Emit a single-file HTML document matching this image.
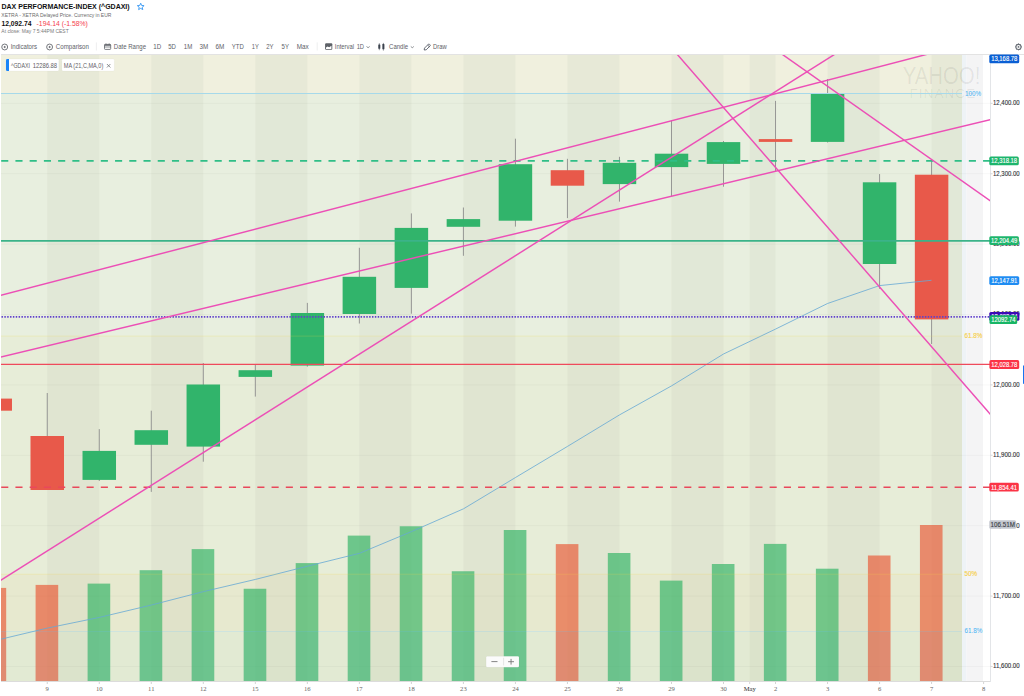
<!DOCTYPE html>
<html><head><meta charset="utf-8"><title>DAX Chart</title>
<style>
html,body{margin:0;padding:0;background:#fff;width:1024px;height:696px;overflow:hidden;}
svg{position:absolute;left:0;top:0;display:block;font-family:"Liberation Sans",sans-serif;}
</style></head><body>
<svg width="1024" height="696" viewBox="0 0 1024 696">
<defs><clipPath id="pc"><rect x="1" y="55" width="989" height="626"/></clipPath></defs>
<rect x="1" y="55" width="962" height="38.5" fill="#f0f0de"/>
<rect x="47.25" y="55" width="52.02" height="38.5" fill="#e7e9d7"/>
<rect x="151.29" y="55" width="52.02" height="38.5" fill="#e7e9d7"/>
<rect x="255.33" y="55" width="52.02" height="38.5" fill="#e7e9d7"/>
<rect x="359.37" y="55" width="52.02" height="38.5" fill="#e7e9d7"/>
<rect x="463.41" y="55" width="52.02" height="38.5" fill="#e7e9d7"/>
<rect x="567.45" y="55" width="52.02" height="38.5" fill="#e7e9d7"/>
<rect x="671.49" y="55" width="52.02" height="38.5" fill="#e7e9d7"/>
<rect x="749.70" y="55" width="25.83" height="38.5" fill="#e7e9d7"/>
<rect x="827.55" y="55" width="52.02" height="38.5" fill="#e7e9d7"/>
<rect x="931.59" y="55" width="30.41" height="38.5" fill="#e7e9d7"/>
<rect x="1" y="93.5" width="962" height="242.5" fill="#e8efdf"/>
<rect x="47.25" y="93.5" width="52.02" height="242.5" fill="#e1e8d7"/>
<rect x="151.29" y="93.5" width="52.02" height="242.5" fill="#e1e8d7"/>
<rect x="255.33" y="93.5" width="52.02" height="242.5" fill="#e1e8d7"/>
<rect x="359.37" y="93.5" width="52.02" height="242.5" fill="#e1e8d7"/>
<rect x="463.41" y="93.5" width="52.02" height="242.5" fill="#e1e8d7"/>
<rect x="567.45" y="93.5" width="52.02" height="242.5" fill="#e1e8d7"/>
<rect x="671.49" y="93.5" width="52.02" height="242.5" fill="#e1e8d7"/>
<rect x="749.70" y="93.5" width="25.83" height="242.5" fill="#e1e8d7"/>
<rect x="827.55" y="93.5" width="52.02" height="242.5" fill="#e1e8d7"/>
<rect x="931.59" y="93.5" width="30.41" height="242.5" fill="#e1e8d7"/>
<rect x="1" y="336" width="962" height="238" fill="#e7edd8"/>
<rect x="47.25" y="336" width="52.02" height="238" fill="#e0e5d1"/>
<rect x="151.29" y="336" width="52.02" height="238" fill="#e0e5d1"/>
<rect x="255.33" y="336" width="52.02" height="238" fill="#e0e5d1"/>
<rect x="359.37" y="336" width="52.02" height="238" fill="#e0e5d1"/>
<rect x="463.41" y="336" width="52.02" height="238" fill="#e0e5d1"/>
<rect x="567.45" y="336" width="52.02" height="238" fill="#e0e5d1"/>
<rect x="671.49" y="336" width="52.02" height="238" fill="#e0e5d1"/>
<rect x="749.70" y="336" width="25.83" height="238" fill="#e0e5d1"/>
<rect x="827.55" y="336" width="52.02" height="238" fill="#e0e5d1"/>
<rect x="931.59" y="336" width="30.41" height="238" fill="#e0e5d1"/>
<rect x="1" y="574" width="962" height="57.5" fill="#e7e9cf"/>
<rect x="47.25" y="574" width="52.02" height="57.5" fill="#e0e2c9"/>
<rect x="151.29" y="574" width="52.02" height="57.5" fill="#e0e2c9"/>
<rect x="255.33" y="574" width="52.02" height="57.5" fill="#e0e2c9"/>
<rect x="359.37" y="574" width="52.02" height="57.5" fill="#e0e2c9"/>
<rect x="463.41" y="574" width="52.02" height="57.5" fill="#e0e2c9"/>
<rect x="567.45" y="574" width="52.02" height="57.5" fill="#e0e2c9"/>
<rect x="671.49" y="574" width="52.02" height="57.5" fill="#e0e2c9"/>
<rect x="749.70" y="574" width="25.83" height="57.5" fill="#e0e2c9"/>
<rect x="827.55" y="574" width="52.02" height="57.5" fill="#e0e2c9"/>
<rect x="931.59" y="574" width="30.41" height="57.5" fill="#e0e2c9"/>
<rect x="1" y="631.5" width="962" height="49.5" fill="#e2ead3"/>
<rect x="47.25" y="631.5" width="52.02" height="49.5" fill="#dbe3cb"/>
<rect x="151.29" y="631.5" width="52.02" height="49.5" fill="#dbe3cb"/>
<rect x="255.33" y="631.5" width="52.02" height="49.5" fill="#dbe3cb"/>
<rect x="359.37" y="631.5" width="52.02" height="49.5" fill="#dbe3cb"/>
<rect x="463.41" y="631.5" width="52.02" height="49.5" fill="#dbe3cb"/>
<rect x="567.45" y="631.5" width="52.02" height="49.5" fill="#dbe3cb"/>
<rect x="671.49" y="631.5" width="52.02" height="49.5" fill="#dbe3cb"/>
<rect x="749.70" y="631.5" width="25.83" height="49.5" fill="#dbe3cb"/>
<rect x="827.55" y="631.5" width="52.02" height="49.5" fill="#dbe3cb"/>
<rect x="931.59" y="631.5" width="30.41" height="49.5" fill="#dbe3cb"/>
<rect x="962" y="55" width="4.5" height="626" fill="#eef3f6"/>
<rect x="966.5" y="55" width="16.70" height="626" fill="#f4f4f5"/>
<rect x="983.2" y="55" width="6.80" height="626" fill="#ffffff"/>
<line x1="1" x2="990" y1="666.47" y2="666.47" stroke="rgba(0,0,0,0.045)" stroke-width="0.8"/>
<line x1="1" x2="990" y1="596.08" y2="596.08" stroke="rgba(0,0,0,0.045)" stroke-width="0.8"/>
<line x1="1" x2="990" y1="525.69" y2="525.69" stroke="rgba(0,0,0,0.045)" stroke-width="0.8"/>
<line x1="1" x2="990" y1="455.30" y2="455.30" stroke="rgba(0,0,0,0.045)" stroke-width="0.8"/>
<line x1="1" x2="990" y1="384.91" y2="384.91" stroke="rgba(0,0,0,0.045)" stroke-width="0.8"/>
<line x1="1" x2="990" y1="314.52" y2="314.52" stroke="rgba(0,0,0,0.045)" stroke-width="0.8"/>
<line x1="1" x2="990" y1="244.13" y2="244.13" stroke="rgba(0,0,0,0.045)" stroke-width="0.8"/>
<line x1="1" x2="990" y1="173.74" y2="173.74" stroke="rgba(0,0,0,0.045)" stroke-width="0.8"/>
<line x1="1" x2="990" y1="103.35" y2="103.35" stroke="rgba(0,0,0,0.045)" stroke-width="0.8"/>
<text x="902.7" y="84.3" font-size="24.1" textLength="77.6" lengthAdjust="spacingAndGlyphs" fill="rgba(0,0,0,0.075)" stroke="rgba(0,0,0,0.03)" stroke-width="0.5">YAHOO!</text>
<text x="909.5" y="98" font-size="13.4" textLength="65.6" lengthAdjust="spacing" fill="rgba(0,0,0,0.07)">FINANCE</text>
<text x="964.9" y="95.6" font-size="6.3" fill="#4fb7f4" stroke="#4fb7f4" stroke-width="0.05">100%</text>
<text x="964.4" y="338.1" font-size="6.3" fill="#f6d04c" stroke="#f6d04c" stroke-width="0.15">61.8%</text>
<text x="964.4" y="575.8" font-size="6.3" fill="#f6d04c" stroke="#f6d04c" stroke-width="0.15">50%</text>
<text x="964.4" y="633.4" font-size="6.3" fill="#4fb7f4" stroke="#4fb7f4" stroke-width="0.05">61.8%</text>
<rect x="1.00" y="587.9" width="5.18" height="93.10" fill="rgba(232,86,52,0.66)"/>
<rect x="1.00" y="631.5" width="5.18" height="49.50" fill="rgba(130,190,230,0.06)"/>
<rect x="35.60" y="584.9" width="22.60" height="96.10" fill="rgba(232,86,52,0.66)"/>
<rect x="35.60" y="631.5" width="22.60" height="49.50" fill="rgba(130,190,230,0.06)"/>
<rect x="87.62" y="583.6" width="22.60" height="97.40" fill="rgba(52,180,102,0.68)"/>
<rect x="87.62" y="631.5" width="22.60" height="49.50" fill="rgba(130,190,230,0.06)"/>
<rect x="139.64" y="570.2" width="22.60" height="110.80" fill="rgba(52,180,102,0.68)"/>
<rect x="139.64" y="631.5" width="22.60" height="49.50" fill="rgba(130,190,230,0.06)"/>
<rect x="139.64" y="574" width="22.60" height="57.5" fill="rgba(245,235,130,0.045)"/>
<rect x="191.66" y="549.1" width="22.60" height="131.90" fill="rgba(52,180,102,0.68)"/>
<rect x="191.66" y="631.5" width="22.60" height="49.50" fill="rgba(130,190,230,0.06)"/>
<rect x="191.66" y="574" width="22.60" height="57.5" fill="rgba(245,235,130,0.045)"/>
<rect x="243.68" y="588.75" width="22.60" height="92.25" fill="rgba(52,180,102,0.68)"/>
<rect x="243.68" y="631.5" width="22.60" height="49.50" fill="rgba(130,190,230,0.06)"/>
<rect x="295.70" y="563.1" width="22.60" height="117.90" fill="rgba(52,180,102,0.68)"/>
<rect x="295.70" y="631.5" width="22.60" height="49.50" fill="rgba(130,190,230,0.06)"/>
<rect x="295.70" y="574" width="22.60" height="57.5" fill="rgba(245,235,130,0.045)"/>
<rect x="347.72" y="535.6" width="22.60" height="145.40" fill="rgba(52,180,102,0.68)"/>
<rect x="347.72" y="631.5" width="22.60" height="49.50" fill="rgba(130,190,230,0.06)"/>
<rect x="347.72" y="574" width="22.60" height="57.5" fill="rgba(245,235,130,0.045)"/>
<rect x="399.74" y="526.25" width="22.60" height="154.75" fill="rgba(52,180,102,0.68)"/>
<rect x="399.74" y="631.5" width="22.60" height="49.50" fill="rgba(130,190,230,0.06)"/>
<rect x="399.74" y="574" width="22.60" height="57.5" fill="rgba(245,235,130,0.045)"/>
<rect x="451.76" y="571.25" width="22.60" height="109.75" fill="rgba(52,180,102,0.68)"/>
<rect x="451.76" y="631.5" width="22.60" height="49.50" fill="rgba(130,190,230,0.06)"/>
<rect x="451.76" y="574" width="22.60" height="57.5" fill="rgba(245,235,130,0.045)"/>
<rect x="503.78" y="530" width="22.60" height="151.00" fill="rgba(52,180,102,0.68)"/>
<rect x="503.78" y="631.5" width="22.60" height="49.50" fill="rgba(130,190,230,0.06)"/>
<rect x="503.78" y="574" width="22.60" height="57.5" fill="rgba(245,235,130,0.045)"/>
<rect x="555.80" y="544.1" width="22.60" height="136.90" fill="rgba(232,86,52,0.66)"/>
<rect x="555.80" y="631.5" width="22.60" height="49.50" fill="rgba(130,190,230,0.06)"/>
<rect x="555.80" y="574" width="22.60" height="57.5" fill="rgba(245,235,130,0.045)"/>
<rect x="607.82" y="553" width="22.60" height="128.00" fill="rgba(52,180,102,0.68)"/>
<rect x="607.82" y="631.5" width="22.60" height="49.50" fill="rgba(130,190,230,0.06)"/>
<rect x="607.82" y="574" width="22.60" height="57.5" fill="rgba(245,235,130,0.045)"/>
<rect x="659.84" y="580.6" width="22.60" height="100.40" fill="rgba(52,180,102,0.68)"/>
<rect x="659.84" y="631.5" width="22.60" height="49.50" fill="rgba(130,190,230,0.06)"/>
<rect x="711.86" y="564" width="22.60" height="117.00" fill="rgba(52,180,102,0.68)"/>
<rect x="711.86" y="631.5" width="22.60" height="49.50" fill="rgba(130,190,230,0.06)"/>
<rect x="711.86" y="574" width="22.60" height="57.5" fill="rgba(245,235,130,0.045)"/>
<rect x="763.88" y="543.9" width="22.60" height="137.10" fill="rgba(52,180,102,0.68)"/>
<rect x="763.88" y="631.5" width="22.60" height="49.50" fill="rgba(130,190,230,0.06)"/>
<rect x="763.88" y="574" width="22.60" height="57.5" fill="rgba(245,235,130,0.045)"/>
<rect x="815.90" y="568.7" width="22.60" height="112.30" fill="rgba(52,180,102,0.68)"/>
<rect x="815.90" y="631.5" width="22.60" height="49.50" fill="rgba(130,190,230,0.06)"/>
<rect x="815.90" y="574" width="22.60" height="57.5" fill="rgba(245,235,130,0.045)"/>
<rect x="867.92" y="555.5" width="22.60" height="125.50" fill="rgba(232,86,52,0.66)"/>
<rect x="867.92" y="631.5" width="22.60" height="49.50" fill="rgba(130,190,230,0.06)"/>
<rect x="867.92" y="574" width="22.60" height="57.5" fill="rgba(245,235,130,0.045)"/>
<rect x="919.94" y="525" width="22.60" height="156.00" fill="rgba(232,86,52,0.66)"/>
<rect x="919.94" y="631.5" width="22.60" height="49.50" fill="rgba(130,190,230,0.06)"/>
<rect x="919.94" y="574" width="22.60" height="57.5" fill="rgba(245,235,130,0.045)"/>
<g clip-path="url(#pc)">
<line x1="-4.77" x2="-4.77" y1="398.6" y2="410.7" stroke="#8c8c8c" stroke-width="0.9"/>
<line x1="47.25" x2="47.25" y1="393.0" y2="490.0" stroke="#8c8c8c" stroke-width="0.9"/>
<line x1="99.27" x2="99.27" y1="429.1" y2="481.0" stroke="#8c8c8c" stroke-width="0.9"/>
<line x1="151.29" x2="151.29" y1="410.7" y2="491.9" stroke="#8c8c8c" stroke-width="0.9"/>
<line x1="203.31" x2="203.31" y1="363.0" y2="461.7" stroke="#8c8c8c" stroke-width="0.9"/>
<line x1="255.33" x2="255.33" y1="364.6" y2="396.6" stroke="#8c8c8c" stroke-width="0.9"/>
<line x1="307.35" x2="307.35" y1="302.9" y2="366.7" stroke="#8c8c8c" stroke-width="0.9"/>
<line x1="359.37" x2="359.37" y1="247.8" y2="323.5" stroke="#8c8c8c" stroke-width="0.9"/>
<line x1="411.39" x2="411.39" y1="213.4" y2="313.7" stroke="#8c8c8c" stroke-width="0.9"/>
<line x1="463.41" x2="463.41" y1="207.5" y2="255.8" stroke="#8c8c8c" stroke-width="0.9"/>
<line x1="515.43" x2="515.43" y1="138.7" y2="226.6" stroke="#8c8c8c" stroke-width="0.9"/>
<line x1="567.45" x2="567.45" y1="158.8" y2="218.1" stroke="#8c8c8c" stroke-width="0.9"/>
<line x1="619.47" x2="619.47" y1="156.8" y2="201.6" stroke="#8c8c8c" stroke-width="0.9"/>
<line x1="671.49" x2="671.49" y1="120.5" y2="196.2" stroke="#8c8c8c" stroke-width="0.9"/>
<line x1="723.51" x2="723.51" y1="141.0" y2="186.7" stroke="#8c8c8c" stroke-width="0.9"/>
<line x1="775.53" x2="775.53" y1="100.9" y2="171.0" stroke="#8c8c8c" stroke-width="0.9"/>
<line x1="827.55" x2="827.55" y1="79.0" y2="142.5" stroke="#8c8c8c" stroke-width="0.9"/>
<line x1="879.57" x2="879.57" y1="174.1" y2="288.8" stroke="#8c8c8c" stroke-width="0.9"/>
<line x1="931.59" x2="931.59" y1="160.6" y2="344.0" stroke="#8c8c8c" stroke-width="0.9"/>
<rect x="-21.52" y="398.6" width="33.5" height="12.10" fill="#e8594a"/>
<rect x="30.50" y="436.0" width="33.5" height="54.00" fill="#e8594a"/>
<rect x="82.52" y="450.9" width="33.5" height="29.00" fill="#31b46b"/>
<rect x="134.54" y="430.2" width="33.5" height="14.60" fill="#31b46b"/>
<rect x="186.56" y="384.5" width="33.5" height="62.10" fill="#31b46b"/>
<rect x="238.58" y="370.2" width="33.5" height="6.70" fill="#31b46b"/>
<rect x="290.60" y="313.0" width="33.5" height="52.60" fill="#31b46b"/>
<rect x="342.62" y="276.8" width="33.5" height="37.20" fill="#31b46b"/>
<rect x="394.64" y="227.9" width="33.5" height="60.00" fill="#31b46b"/>
<rect x="446.66" y="219.1" width="33.5" height="7.70" fill="#31b46b"/>
<rect x="498.68" y="164.2" width="33.5" height="56.50" fill="#31b46b"/>
<rect x="550.70" y="170.2" width="33.5" height="15.50" fill="#e8594a"/>
<rect x="602.72" y="162.8" width="33.5" height="21.30" fill="#31b46b"/>
<rect x="654.74" y="153.7" width="33.5" height="13.40" fill="#31b46b"/>
<rect x="706.76" y="142.1" width="33.5" height="21.80" fill="#31b46b"/>
<rect x="758.78" y="139.1" width="33.5" height="2.80" fill="#e8594a"/>
<rect x="810.80" y="94.0" width="33.5" height="47.90" fill="#31b46b"/>
<rect x="862.82" y="182.3" width="33.5" height="81.70" fill="#31b46b"/>
<rect x="914.84" y="174.7" width="33.5" height="144.70" fill="#e8594a"/>
</g>
<polyline clip-path="url(#pc)" points="-4.6,640.5 47.3,628.1 99.4,617.4 151.5,605.0 203.5,591.6 255.5,579.4 307.5,566.2 359.5,553.3 411.5,531.6 463.5,508.8 515.5,477.5 567.5,446.4 619.5,414.9 671.5,385.9 723.5,354.0 775.5,329.1 827.5,303.5 879.5,285.6 931.5,280.3" fill="none" stroke="#66a8d4" stroke-width="0.8"/>
<line x1="1" x2="962" y1="93.5" y2="93.5" stroke="#a6d9ea" stroke-width="1"/>
<line x1="1" x2="962" y1="336.1" y2="336.1" stroke="rgba(245,220,70,0.22)" stroke-width="0.9"/>
<line x1="1" x2="962" y1="574.2" y2="574.2" stroke="rgba(245,220,70,0.22)" stroke-width="0.9"/>
<line x1="1" x2="962" y1="631.5" y2="631.5" stroke="rgba(90,185,235,0.22)" stroke-width="0.9"/>
<line x1="1.2" x2="990" y1="160.8" y2="160.8" stroke="#2fbe87" stroke-width="1.7" stroke-dasharray="7.1 7.13"/>
<line x1="1" x2="990" y1="240.8" y2="240.8" stroke="#3bb389" stroke-width="1.8"/>
<line x1="1.5" x2="990" y1="316.75" y2="316.75" stroke="#6040cc" stroke-width="1.75" stroke-dasharray="1.45 1.4"/>
<line x1="1" x2="990" y1="364.4" y2="364.4" stroke="#ef4a5b" stroke-width="1.4"/>
<line x1="1.2" x2="990" y1="487.3" y2="487.3" stroke="#e9485b" stroke-width="1.5" stroke-dasharray="7.1 7.13"/>
<g clip-path="url(#pc)" stroke="#ec4fb6" stroke-width="1.45" fill="none">
<line x1="-50" y1="308.56" x2="1050" y2="22.29"/>
<line x1="-50" y1="369.19" x2="1050" y2="105.41"/>
<line x1="-50" y1="612.29" x2="1050" y2="-81.48"/>
<line x1="-50" y1="-781.64" x2="1050" y2="482.89"/>
<line x1="-50" y1="-531.95" x2="1050" y2="242.96"/>
</g>
<line x1="1" x2="1024" y1="54.5" y2="54.5" stroke="#e3e3e3" stroke-width="1"/>
<line x1="1" x2="990.5" y1="681.5" y2="681.5" stroke="#dcdcdc" stroke-width="1"/>
<line x1="990.5" x2="990.5" y1="55" y2="682" stroke="#e3e5e8" stroke-width="1"/>
<line x1="990.5" x2="992.6" y1="666.47" y2="666.47" stroke="#cfcfcf" stroke-width="0.8"/>
<text x="993.0" y="668.37" font-size="6.45" textLength="26.6" lengthAdjust="spacingAndGlyphs" fill="#303236" stroke="#303236" stroke-width="0.12">11,600.00</text>
<line x1="990.5" x2="992.6" y1="596.08" y2="596.08" stroke="#cfcfcf" stroke-width="0.8"/>
<text x="993.0" y="597.98" font-size="6.45" textLength="26.6" lengthAdjust="spacingAndGlyphs" fill="#303236" stroke="#303236" stroke-width="0.12">11,700.00</text>
<line x1="990.5" x2="992.6" y1="525.69" y2="525.69" stroke="#cfcfcf" stroke-width="0.8"/>
<text x="993.0" y="527.59" font-size="6.45" textLength="26.6" lengthAdjust="spacingAndGlyphs" fill="#303236" stroke="#303236" stroke-width="0.12">11,800.00</text>
<line x1="990.5" x2="992.6" y1="455.30" y2="455.30" stroke="#cfcfcf" stroke-width="0.8"/>
<text x="993.0" y="457.20" font-size="6.45" textLength="26.6" lengthAdjust="spacingAndGlyphs" fill="#303236" stroke="#303236" stroke-width="0.12">11,900.00</text>
<line x1="990.5" x2="992.6" y1="384.91" y2="384.91" stroke="#cfcfcf" stroke-width="0.8"/>
<text x="993.0" y="386.81" font-size="6.45" textLength="26.6" lengthAdjust="spacingAndGlyphs" fill="#303236" stroke="#303236" stroke-width="0.12">12,000.00</text>
<line x1="990.5" x2="992.6" y1="314.52" y2="314.52" stroke="#cfcfcf" stroke-width="0.8"/>
<text x="993.0" y="316.42" font-size="6.45" textLength="26.6" lengthAdjust="spacingAndGlyphs" fill="#303236" stroke="#303236" stroke-width="0.12">12,100.00</text>
<line x1="990.5" x2="992.6" y1="244.13" y2="244.13" stroke="#cfcfcf" stroke-width="0.8"/>
<text x="993.0" y="246.03" font-size="6.45" textLength="26.6" lengthAdjust="spacingAndGlyphs" fill="#303236" stroke="#303236" stroke-width="0.12">12,200.00</text>
<line x1="990.5" x2="992.6" y1="173.74" y2="173.74" stroke="#cfcfcf" stroke-width="0.8"/>
<text x="993.0" y="175.64" font-size="6.45" textLength="26.6" lengthAdjust="spacingAndGlyphs" fill="#303236" stroke="#303236" stroke-width="0.12">12,300.00</text>
<line x1="990.5" x2="992.6" y1="103.35" y2="103.35" stroke="#cfcfcf" stroke-width="0.8"/>
<text x="993.0" y="105.25" font-size="6.45" textLength="26.6" lengthAdjust="spacingAndGlyphs" fill="#303236" stroke="#303236" stroke-width="0.12">12,400.00</text>
<rect x="989.3" y="54.60" width="29.90" height="8.7" rx="1.6" fill="#0a5fd4"/>
<text x="1004.25" y="61.30" font-size="6.45" textLength="26.2" lengthAdjust="spacingAndGlyphs" fill="#fff" stroke="#fff" stroke-width="0.12" text-anchor="middle">13,168.78</text>
<rect x="989.3" y="156.60" width="29.50" height="8.7" rx="1.6" fill="#1db56c"/>
<text x="1004.05" y="163.30" font-size="6.45" textLength="26.2" lengthAdjust="spacingAndGlyphs" fill="#fff" stroke="#fff" stroke-width="0.12" text-anchor="middle">12,318.18</text>
<rect x="989.3" y="236.25" width="29.60" height="8.7" rx="1.6" fill="#1db56c"/>
<text x="1004.10" y="242.95" font-size="6.45" textLength="26.2" lengthAdjust="spacingAndGlyphs" fill="#fff" stroke="#fff" stroke-width="0.12" text-anchor="middle">12,204.49</text>
<rect x="989.3" y="276.25" width="29.90" height="8.7" rx="1.6" fill="#1f8cf2"/>
<text x="1004.25" y="282.95" font-size="6.45" textLength="26.2" lengthAdjust="spacingAndGlyphs" fill="#fff" stroke="#fff" stroke-width="0.12" text-anchor="middle">12,147.91</text>
<rect x="989.3" y="311.90" width="30.10" height="8.9" rx="1.6" fill="#3c09b6"/>
<text x="1004.35" y="318.70" font-size="6.45" textLength="26.2" lengthAdjust="spacingAndGlyphs" fill="#fff" stroke="#fff" stroke-width="0.12" text-anchor="middle">12,092.74</text>
<rect x="989.5" y="315.20" width="27.70" height="8.8" rx="1.6" fill="#17b565"/>
<text x="1003.35" y="321.95" font-size="6.45" textLength="24.3" lengthAdjust="spacingAndGlyphs" fill="#fff" stroke="#fff" stroke-width="0.12" text-anchor="middle">12092.74</text>
<rect x="989.4" y="360.10" width="29.80" height="9.0" rx="1.6" fill="#fb3446"/>
<text x="1004.30" y="366.95" font-size="6.45" textLength="26.2" lengthAdjust="spacingAndGlyphs" fill="#fff" stroke="#fff" stroke-width="0.12" text-anchor="middle">12,028.78</text>
<rect x="989.3" y="482.80" width="29.50" height="8.7" rx="1.6" fill="#fb3446"/>
<text x="1004.05" y="489.50" font-size="6.45" textLength="26.2" lengthAdjust="spacingAndGlyphs" fill="#fff" stroke="#fff" stroke-width="0.12" text-anchor="middle">11,854.41</text>
<rect x="989.3" y="520.20" width="26.80" height="8.6" rx="1.6" fill="#c3c7cf"/>
<text x="1002.70" y="526.85" font-size="6.45" textLength="24.4" lengthAdjust="spacingAndGlyphs" fill="#3a3d44" stroke="#3a3d44" stroke-width="0.12" text-anchor="middle">106.51M</text>
<rect x="1023" y="365.5" width="1" height="18.3" fill="#1875f0"/>
<line x1="47.25" x2="47.25" y1="682" y2="684" stroke="#c8c8c8" stroke-width="0.8"/>
<text x="47.25" y="690.9" font-family="Liberation Serif, serif" font-size="6.6" fill="#666" text-anchor="middle">9</text>
<line x1="99.27" x2="99.27" y1="682" y2="684" stroke="#c8c8c8" stroke-width="0.8"/>
<text x="99.27" y="690.9" font-family="Liberation Serif, serif" font-size="6.6" fill="#666" text-anchor="middle">10</text>
<line x1="151.29" x2="151.29" y1="682" y2="684" stroke="#c8c8c8" stroke-width="0.8"/>
<text x="151.29" y="690.9" font-family="Liberation Serif, serif" font-size="6.6" fill="#666" text-anchor="middle">11</text>
<line x1="203.31" x2="203.31" y1="682" y2="684" stroke="#c8c8c8" stroke-width="0.8"/>
<text x="203.31" y="690.9" font-family="Liberation Serif, serif" font-size="6.6" fill="#666" text-anchor="middle">12</text>
<line x1="255.33" x2="255.33" y1="682" y2="684" stroke="#c8c8c8" stroke-width="0.8"/>
<text x="255.33" y="690.9" font-family="Liberation Serif, serif" font-size="6.6" fill="#666" text-anchor="middle">15</text>
<line x1="307.35" x2="307.35" y1="682" y2="684" stroke="#c8c8c8" stroke-width="0.8"/>
<text x="307.35" y="690.9" font-family="Liberation Serif, serif" font-size="6.6" fill="#666" text-anchor="middle">16</text>
<line x1="359.37" x2="359.37" y1="682" y2="684" stroke="#c8c8c8" stroke-width="0.8"/>
<text x="359.37" y="690.9" font-family="Liberation Serif, serif" font-size="6.6" fill="#666" text-anchor="middle">17</text>
<line x1="411.39" x2="411.39" y1="682" y2="684" stroke="#c8c8c8" stroke-width="0.8"/>
<text x="411.39" y="690.9" font-family="Liberation Serif, serif" font-size="6.6" fill="#666" text-anchor="middle">18</text>
<line x1="463.41" x2="463.41" y1="682" y2="684" stroke="#c8c8c8" stroke-width="0.8"/>
<text x="463.41" y="690.9" font-family="Liberation Serif, serif" font-size="6.6" fill="#666" text-anchor="middle">23</text>
<line x1="515.43" x2="515.43" y1="682" y2="684" stroke="#c8c8c8" stroke-width="0.8"/>
<text x="515.43" y="690.9" font-family="Liberation Serif, serif" font-size="6.6" fill="#666" text-anchor="middle">24</text>
<line x1="567.45" x2="567.45" y1="682" y2="684" stroke="#c8c8c8" stroke-width="0.8"/>
<text x="567.45" y="690.9" font-family="Liberation Serif, serif" font-size="6.6" fill="#666" text-anchor="middle">25</text>
<line x1="619.47" x2="619.47" y1="682" y2="684" stroke="#c8c8c8" stroke-width="0.8"/>
<text x="619.47" y="690.9" font-family="Liberation Serif, serif" font-size="6.6" fill="#666" text-anchor="middle">26</text>
<line x1="671.49" x2="671.49" y1="682" y2="684" stroke="#c8c8c8" stroke-width="0.8"/>
<text x="671.49" y="690.9" font-family="Liberation Serif, serif" font-size="6.6" fill="#666" text-anchor="middle">29</text>
<line x1="723.51" x2="723.51" y1="682" y2="684" stroke="#c8c8c8" stroke-width="0.8"/>
<text x="723.51" y="690.9" font-family="Liberation Serif, serif" font-size="6.6" fill="#666" text-anchor="middle">30</text>
<line x1="749.70" x2="749.70" y1="682" y2="684" stroke="#c8c8c8" stroke-width="0.8"/>
<text x="749.70" y="690.9" font-family="Liberation Serif, serif" font-size="6.6" fill="#2a2a2a" text-anchor="middle">May</text>
<line x1="775.53" x2="775.53" y1="682" y2="684" stroke="#c8c8c8" stroke-width="0.8"/>
<text x="775.53" y="690.9" font-family="Liberation Serif, serif" font-size="6.6" fill="#666" text-anchor="middle">2</text>
<line x1="827.55" x2="827.55" y1="682" y2="684" stroke="#c8c8c8" stroke-width="0.8"/>
<text x="827.55" y="690.9" font-family="Liberation Serif, serif" font-size="6.6" fill="#666" text-anchor="middle">3</text>
<line x1="879.57" x2="879.57" y1="682" y2="684" stroke="#c8c8c8" stroke-width="0.8"/>
<text x="879.57" y="690.9" font-family="Liberation Serif, serif" font-size="6.6" fill="#666" text-anchor="middle">6</text>
<line x1="931.59" x2="931.59" y1="682" y2="684" stroke="#c8c8c8" stroke-width="0.8"/>
<text x="931.59" y="690.9" font-family="Liberation Serif, serif" font-size="6.6" fill="#666" text-anchor="middle">7</text>
<line x1="983.61" x2="983.61" y1="682" y2="684" stroke="#c8c8c8" stroke-width="0.8"/>
<text x="983.61" y="690.9" font-family="Liberation Serif, serif" font-size="6.6" fill="#666" text-anchor="middle">8</text>
<rect x="486.1" y="656.3" width="32.9" height="11" rx="1.2" fill="#fbfbfb" stroke="rgba(0,0,0,0.06)" stroke-width="0.6"/>
<line x1="491.4" x2="497.5" y1="661.6" y2="661.6" stroke="#777" stroke-width="0.9"/>
<line x1="503.6" x2="503.6" y1="657.8" y2="665.4" stroke="#d5d5d5" stroke-width="0.6"/>
<line x1="508.1" x2="514" y1="661.7" y2="661.7" stroke="#777" stroke-width="0.9"/>
<line x1="511.05" x2="511.05" y1="658.9" y2="664.6" stroke="#777" stroke-width="0.9"/>
<rect x="6" y="59" width="52.8" height="12" rx="1.2" fill="#fff" stroke="rgba(0,0,0,0.05)" stroke-width="0.6"/>
<path d="M7.3 59 H9 V71 H7.3 Q6 71 6 69.7 V60.3 Q6 59 7.3 59 Z" fill="#1a84f7"/>
<text x="10.95" y="67.8" font-size="6.45" textLength="19.1" lengthAdjust="spacingAndGlyphs" fill="#5f6166">^GDAXI</text>
<text x="32.65" y="67.8" font-size="6.45" textLength="24.5" lengthAdjust="spacingAndGlyphs" fill="#5f6166">12286.88</text>
<rect x="61.9" y="59" width="52.4" height="12" rx="1.2" fill="#fff" stroke="rgba(0,0,0,0.05)" stroke-width="0.6"/>
<text x="63.75" y="67.8" font-size="6.45" textLength="39.5" lengthAdjust="spacingAndGlyphs" fill="#5f6166">MA (21,C,MA,0)</text>
<path d="M106.9 64.0 L110.4 67.5 M110.4 64.0 L106.9 67.5" stroke="#6a6d72" stroke-width="0.75"/>
<text x="1.5" y="9.1" font-size="7.01" font-weight="bold" fill="#111">DAX PERFORMANCE-INDEX (^GDAXI)</text>
<path d="M140.70 3.20 L141.64 5.46 L144.08 5.65 L142.22 7.24 L142.79 9.62 L140.70 8.35 L138.61 9.62 L139.18 7.24 L137.32 5.65 L139.76 5.46 Z" fill="none" stroke="#3d9bf3" stroke-width="0.95" stroke-linejoin="round"/>
<text x="1.35" y="16.8" font-size="5.35" textLength="110.1" lengthAdjust="spacingAndGlyphs" fill="#6a6a6a">XETRA - XETRA Delayed Price. Currency in EUR</text>
<text x="1.5" y="26.1" font-size="6.74" font-weight="bold" fill="#111">12,092.74</text>
<text x="36.6" y="26.1" font-size="6.84" fill="#f5414e">-194.14 (-1.58%)</text>
<text x="1.35" y="32.8" font-size="5.2" textLength="67.4" lengthAdjust="spacingAndGlyphs" fill="#7a7a7a">At close: May 7 5:44PM CEST</text>
<circle cx="4.7" cy="47.0" r="2.95" fill="none" stroke="#5d6167" stroke-width="0.85"/>
<circle cx="4.7" cy="47.0" r="0.75" fill="#5d6167"/>
<path d="M3.5 47.0 H5.9 M4.7 45.8 V48.2" stroke="#5d6167" stroke-width="0.45"/>
<text x="10.65" y="48.85" font-size="6.45" textLength="26.40" lengthAdjust="spacingAndGlyphs" fill="#5d6167">Indicators</text>
<circle cx="49.6" cy="47.0" r="2.95" fill="none" stroke="#5d6167" stroke-width="0.85"/>
<circle cx="49.6" cy="47.0" r="0.75" fill="#5d6167"/>
<path d="M48.4 47.0 H50.800000000000004 M49.6 45.8 V48.2" stroke="#5d6167" stroke-width="0.45"/>
<text x="55.85" y="48.85" font-size="6.45" textLength="33.10" lengthAdjust="spacingAndGlyphs" fill="#5d6167">Comparison</text>
<line x1="96.4" x2="96.4" y1="42.4" y2="50.5" stroke="#e6e8ea" stroke-width="0.7"/>
<rect x="104.5" y="44.4" width="6.2" height="5.0" rx="0.7" fill="none" stroke="#5d6167" stroke-width="0.8"/>
<path d="M104.5 45.1 H110.7" stroke="#5d6167" stroke-width="1.3"/>
<path d="M104.5 47.0 H110.7 M106.0 43.4 V44.6 M109.2 43.4 V44.6" stroke="#5d6167" stroke-width="0.7"/>
<text x="113.85" y="48.85" font-size="6.45" textLength="32.20" lengthAdjust="spacingAndGlyphs" fill="#5d6167">Date Range</text>
<text x="153.25" y="48.85" font-size="6.45" textLength="7.90" lengthAdjust="spacingAndGlyphs" fill="#5d6167">1D</text>
<text x="168.25" y="48.85" font-size="6.45" textLength="7.70" lengthAdjust="spacingAndGlyphs" fill="#5d6167">5D</text>
<text x="183.85" y="48.85" font-size="6.45" textLength="8.50" lengthAdjust="spacingAndGlyphs" fill="#5d6167">1M</text>
<text x="199.55" y="48.85" font-size="6.45" textLength="8.70" lengthAdjust="spacingAndGlyphs" fill="#5d6167">3M</text>
<text x="215.45" y="48.85" font-size="6.45" textLength="8.90" lengthAdjust="spacingAndGlyphs" fill="#5d6167">6M</text>
<text x="231.85" y="48.85" font-size="6.45" textLength="12.05" lengthAdjust="spacingAndGlyphs" fill="#5d6167">YTD</text>
<text x="251.75" y="48.85" font-size="6.45" textLength="7.00" lengthAdjust="spacingAndGlyphs" fill="#5d6167">1Y</text>
<text x="266.25" y="48.85" font-size="6.45" textLength="7.30" lengthAdjust="spacingAndGlyphs" fill="#5d6167">2Y</text>
<text x="281.55" y="48.85" font-size="6.45" textLength="7.35" lengthAdjust="spacingAndGlyphs" fill="#5d6167">5Y</text>
<text x="296.75" y="48.85" font-size="6.45" textLength="12.00" lengthAdjust="spacingAndGlyphs" fill="#5d6167">Max</text>
<line x1="317.2" x2="317.2" y1="42.4" y2="50.5" stroke="#e6e8ea" stroke-width="0.7"/>
<rect x="325.1" y="43.3" width="7.2" height="6.4" rx="1.0" fill="#5d6167"/>
<path d="M326.0 48.9 L326.0 47.5 L327.6 46.4 L329.2 47.2 L331.4 45.7 L331.4 48.9 Z" fill="#fff"/>
<text x="334.85" y="48.85" font-size="6.45" textLength="19.20" lengthAdjust="spacingAndGlyphs" fill="#5d6167">Interval</text>
<text x="356.65" y="48.85" font-size="6.45" textLength="7.40" lengthAdjust="spacingAndGlyphs" fill="#5d6167">1D</text>
<path d="M366.5 46.5 L368.1 47.7 L369.7 46.5" fill="none" stroke="#5d6167" stroke-width="0.7"/>
<path d="M379.3 43.2 V50.2 M383.4 42.9 V50.6" stroke="#3b424d" stroke-width="0.55"/>
<rect x="378.3" y="44.4" width="2.0" height="4.4" rx="0.5" fill="#3b424d"/>
<rect x="382.4" y="43.9" width="2.0" height="5.3" rx="0.5" fill="#3b424d"/>
<text x="389.05" y="48.85" font-size="6.45" textLength="19.10" lengthAdjust="spacingAndGlyphs" fill="#5d6167">Candle</text>
<path d="M410.8 46.5 L412.3 47.7 L413.8 46.5" fill="none" stroke="#5d6167" stroke-width="0.7"/>
<path d="M424.2 50.0 L424.5 48.1 L428.3 44.3 Q428.9 43.7 429.5 44.3 L430.0 44.8 Q430.6 45.4 430.0 46.0 L426.2 49.8 Z M427.6 45.0 L429.3 46.7" fill="none" stroke="#3b424d" stroke-width="0.75" stroke-linejoin="round"/>
<text x="433.05" y="48.85" font-size="6.45" textLength="13.70" lengthAdjust="spacingAndGlyphs" fill="#5d6167">Draw</text>
<circle cx="1018.5" cy="46.9" r="2.55" fill="none" stroke="#6b7078" stroke-width="1.05"/>
<path d="M1020.90 46.90 L1021.95 46.90 M1020.20 48.60 L1020.94 49.34 M1018.50 49.30 L1018.50 50.35 M1016.80 48.60 L1016.06 49.34 M1016.10 46.90 L1015.05 46.90 M1016.80 45.20 L1016.06 44.46 M1018.50 44.50 L1018.50 43.45 M1020.20 45.20 L1020.94 44.46" stroke="#6b7078" stroke-width="1.0"/>
<circle cx="1018.5" cy="46.9" r="0.9" fill="#6b7078"/>
</svg>
</body></html>
